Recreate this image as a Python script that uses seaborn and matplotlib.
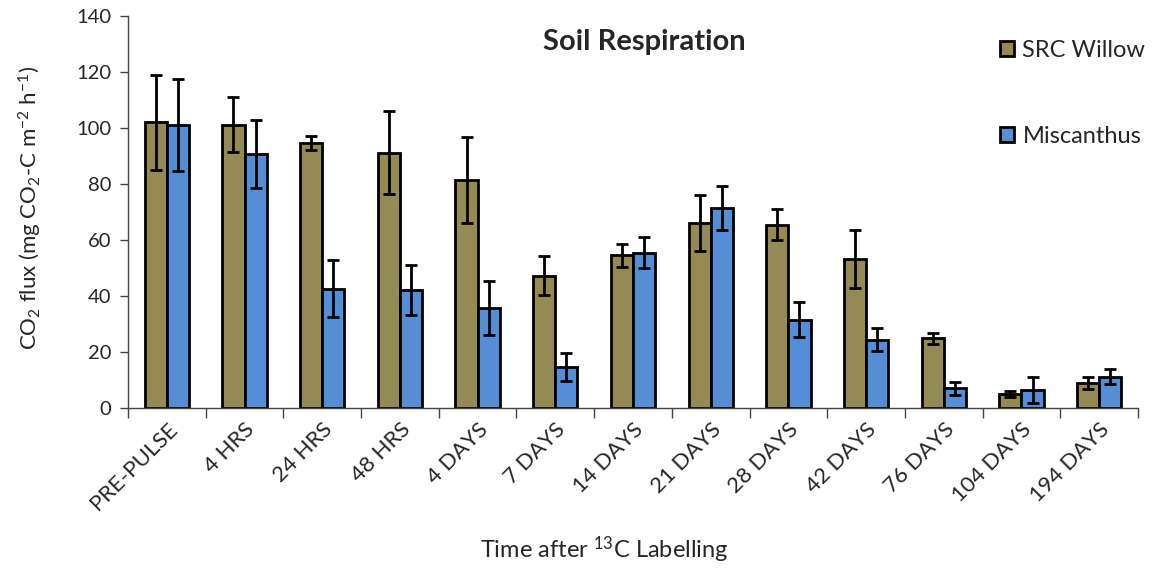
import numpy as np
import pandas as pd
import matplotlib
matplotlib.use("Agg")
import matplotlib.pyplot as plt
import seaborn as sns
from matplotlib.ticker import FixedLocator

# Soil respiration after 13C pulse labelling (mean ± SE)
times = ["PRE-PULSE", "4 HRS", "24 HRS", "48 HRS", "4 DAYS", "7 DAYS", "14 DAYS",
         "21 DAYS", "28 DAYS", "42 DAYS", "76 DAYS", "104 DAYS", "194 DAYS"]
willow_mean = [102.0, 101.2, 94.8, 91.1, 81.4, 47.3, 54.5, 66.1, 65.5, 53.2, 24.9, 5.1, 8.8]
willow_se = [17.0, 9.8, 2.5, 14.8, 15.5, 7.1, 4.1, 10.1, 5.5, 10.2, 1.9, 1.0, 2.1]
misc_mean = [101.0, 90.7, 42.6, 42.1, 35.7, 14.6, 55.4, 71.4, 31.5, 24.3, 7.1, 6.5, 11.2]
misc_se = [16.5, 12.2, 10.1, 9.0, 9.5, 5.0, 5.5, 8.0, 6.2, 4.1, 2.3, 4.7, 2.7]
crops = ["SRC Willow", "Miscanthus"]
colors = ["#948A54", "#558ED5"]

sns.set_style("white")
plt.rcParams["font.family"] = ["Lato", "DejaVu Sans"]
plt.rcParams["mathtext.fontset"] = "custom"
plt.rcParams["mathtext.rm"] = "Lato"
plt.rcParams["mathtext.it"] = "Lato:italic"
plt.rcParams["mathtext.bf"] = "Lato:bold"

df = pd.DataFrame({
    "time": times * 2,
    "flux": willow_mean + misc_mean,
    "crop": [crops[0]] * len(times) + [crops[1]] * len(times),
})
errs = [willow_se, misc_se]

W, H = 1154, 570
fig = plt.figure(figsize=(W / 100, H / 100), dpi=100)
ax = fig.add_axes([128 / W, 1 - 408 / H, (1138 - 128) / W, (408 - 16) / H])

sns.barplot(data=df, x="time", y="flux", hue="crop", order=times, hue_order=crops,
            palette=colors, width=0.57, edgecolor="black", linewidth=2.0,
            errorbar=None, saturation=1, ax=ax)

for cont, se in zip(ax.containers, errs):
    xs = [b.get_x() + b.get_width() / 2 for b in cont]
    hs = [b.get_height() for b in cont]
    ax.errorbar(xs, hs, yerr=se, fmt="none", ecolor="black", elinewidth=2.0,
                capsize=4.5, capthick=2.0, zorder=5)

ax.set_ylim(0, 140)
ax.set_xlim(-0.5, len(times) - 0.5)
ax.set_yticks(np.arange(0, 141, 20))
ax.tick_params(axis="y", labelsize=14.5, length=6, width=1, color="#444444", left=True,
               direction="out", pad=6)
ax.xaxis.set_minor_locator(FixedLocator(np.arange(-0.5, len(times), 1.0)))
ax.tick_params(axis="x", which="major", length=0, labelsize=16, pad=8)
ax.tick_params(axis="x", which="minor", length=7, width=1, color="#444444", bottom=True,
               direction="out")
for lab in ax.get_xticklabels():
    lab.set_rotation(45)
    lab.set_ha("right")
    lab.set_rotation_mode("anchor")

for s in ["top", "right"]:
    ax.spines[s].set_visible(False)
for s in ["left", "bottom"]:
    ax.spines[s].set_color("#444444")
    ax.spines[s].set_linewidth(1)

ax.set_xlabel("")
ax.set_ylabel("")
fig.text(604 / W, 1 - 550 / H, r"Time after $^{13}$C Labelling", fontsize=17,
         ha="center", va="center")
fig.text(30 / W, 1 - 208 / H, r"CO$_2$ flux (mg CO$_2$-C m$^{-2}$ h$^{-1}$)", fontsize=16,
         rotation=90, ha="center", va="center")

fig.text(644 / W, 1 - 42 / H, "Soil Respiration", ha="center", va="center",
         fontsize=21, fontweight="bold")

handles, labels = ax.get_legend_handles_labels()
ax.legend(handles, labels, loc="upper left", bbox_to_anchor=(1000 / W, 1 - 40 / H),
          bbox_transform=fig.transFigure, frameon=False, fontsize=17,
          handlelength=0.6, handleheight=0.6, handletextpad=0.35, labelspacing=2.75,
          borderaxespad=0, borderpad=0)

fig.savefig("out.png", dpi=100, facecolor="white")
